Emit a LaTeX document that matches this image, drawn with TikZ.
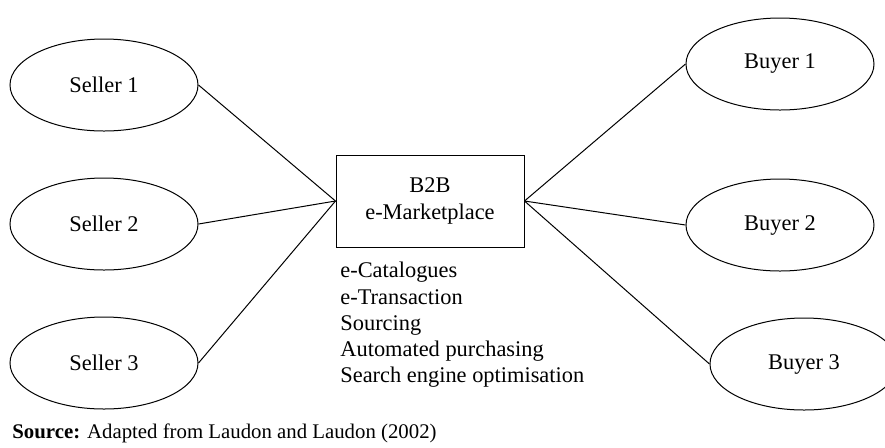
\documentclass[tikz,border=0pt]{standalone}
\usepackage{fontspec}
\setmainfont{Liberation Serif}
\usetikzlibrary{shapes.geometric}

\begin{document}
\begin{tikzpicture}[
  x=0.5pt, y=-0.5pt,
  font=\fontsize{11.2}{13.1}\selectfont,
  party/.style={draw, ellipse, minimum width=94pt, minimum height=46pt, inner sep=0pt, line width=.5pt},
  hub/.style={draw, rectangle, minimum width=94pt, minimum height=46pt, align=center, inner sep=2pt, line width=.5pt},
  link/.style={line width=.5pt},
  lst/.style={align=left, inner sep=0pt},
]
\useasboundingbox (0,0) rectangle (885,447);

% ---------------- sellers
\node[party] (seller1) at (104,85)  {Seller 1};
\node[party] (seller2) at (104,224) {Seller 2};
\node[party] (seller3) at (104,363) {Seller 3};

% ---------------- marketplace
\node[hub] (market) at (430,201) {B2B\\e-Marketplace};
\node[lst, anchor=north west] (services) at (340,262)
  {e-Catalogues\\e-Transaction\\Sourcing\\Automated purchasing\\Search engine optimisation};

% ---------------- buyers
\node[party] (buyer1) at (780,64)  {Buyer 1};
\node[party] (buyer2) at (780,225) {Buyer 2};
\node[party] (buyer3) at (804,364) {Buyer 3};

% ---------------- links
\foreach \s in {seller1,seller2,seller3}
  \draw[link] (\s.east) -- (market.west);
\foreach \b in {buyer1,buyer2,buyer3}
  \draw[link] (market.east) -- (\b.west);

\node[anchor=base west, inner sep=0pt, font=\fontsize{10.4}{12}\selectfont] (source) at (12,438) {\textbf{Source:} Adapted from Laudon and Laudon (2002)};

\end{tikzpicture}
\end{document}
